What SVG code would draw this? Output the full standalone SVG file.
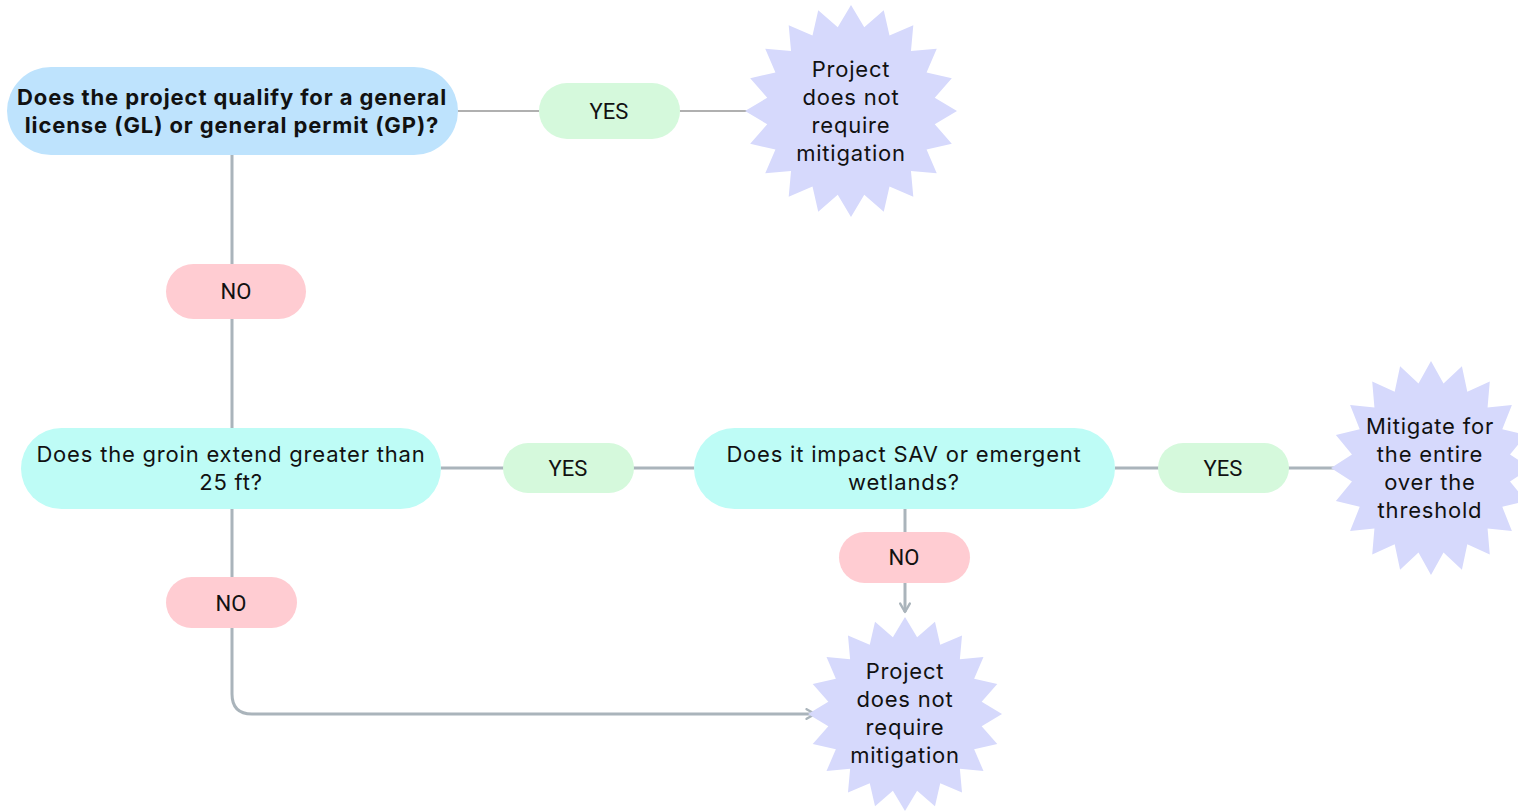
<svg xmlns="http://www.w3.org/2000/svg" xmlns:xlink="http://www.w3.org/1999/xlink" width="1518" height="811" viewBox="0 0 1518 811">
<style>
.q1{fill:#bee3fd}
.q{fill:#befcf6}
.yes{fill:#d5f9dc}
.no{fill:#ffccd2}
.star{fill:#d6d9fc}
.t{font-family:Inter,"DejaVu Sans",sans-serif;font-size:22px;letter-spacing:0.8px;fill:#111;text-anchor:middle}
.tb{font-family:Inter,"DejaVu Sans",sans-serif;font-size:22px;letter-spacing:0.9px;font-weight:bold;fill:#111;text-anchor:middle}
.lbl{font-family:Roboto,"Liberation Sans",sans-serif;font-size:22px;fill:#111;text-anchor:middle}
.c{fill:none;stroke:#aab4bb;stroke-width:3}
.ct{fill:none;stroke:#b0b0b0;stroke-width:2}
</style>
<defs>
<polygon id="star" points="0,-100 12.51,-79.02 30.9,-95.11 36.32,-71.28 58.78,-80.9 56.57,-56.57 80.9,-58.78 71.28,-36.32 95.11,-30.9 79.02,-12.51 100,0 79.02,12.51 95.11,30.9 71.28,36.32 80.9,58.78 56.57,56.57 58.78,80.9 36.32,71.28 30.9,95.11 12.51,79.02 0,100 -12.51,79.02 -30.9,95.11 -36.32,71.28 -58.78,80.9 -56.57,56.57 -80.9,58.78 -71.28,36.32 -95.11,30.9 -79.02,12.51 -100,0 -79.02,-12.51 -95.11,-30.9 -71.28,-36.32 -80.9,-58.78 -56.57,-56.57 -58.78,-80.9 -36.32,-71.28 -30.9,-95.11 -12.51,-79.02"/>
<marker id="arr" viewBox="0 0 10 10" refX="8" refY="5" markerWidth="4" markerHeight="4" orient="auto" markerUnits="strokeWidth">
<path d="M1,1 L8,5 L1,9" fill="none" stroke="#aab4bb" stroke-width="2" stroke-linecap="round" stroke-linejoin="round"/>
</marker>
</defs>
<g id="connectors">
<path class="ct" d="M458,111 H539"/>
<path class="ct" d="M680,111 H757"/>
<path class="c" d="M232,155 V428"/>
<path class="c" d="M441,468 H694"/>
<path class="c" d="M1115,468 H1340"/>
<path class="c" d="M905,509 V612" marker-end="url(#arr)"/>
<path class="c" d="M232,509 V694 Q232,714 252,714 H815" marker-end="url(#arr)"/>
</g>
<g id="q1">
<rect class="q1" x="7" y="67" width="451" height="88" rx="44"/>
<text class="tb" x="232" y="105">Does the project qualify for a general</text>
<text class="tb" x="232" y="133">license (GL) or general permit (GP)?</text>
</g>
<g id="yes1">
<rect class="yes" x="539" y="83" width="141" height="56" rx="28"/>
<text class="lbl" x="609" y="119">YES</text>
</g>
<g id="end1">
<use xlink:href="#star" class="star" transform="translate(851,111) scale(1.06)"/>
<text class="t" x="851" y="77">Project</text>
<text class="t" x="851" y="105">does not</text>
<text class="t" x="851" y="133">require</text>
<text class="t" x="851" y="161">mitigation</text>
</g>
<g id="no1">
<rect class="no" x="166" y="264" width="140" height="55" rx="27.5"/>
<text class="lbl" x="236" y="299">NO</text>
</g>
<g id="q2">
<rect class="q" x="21" y="428" width="420" height="81" rx="40.5"/>
<text class="t" x="231" y="462">Does the groin extend greater than</text>
<text class="t" x="231" y="490">25 ft?</text>
</g>
<g id="yes2">
<rect class="yes" x="503" y="443" width="131" height="50" rx="25"/>
<text class="lbl" x="568" y="476">YES</text>
</g>
<g id="q3">
<rect class="q" x="694" y="428" width="421" height="81" rx="40.5"/>
<text class="t" x="904" y="462">Does it impact SAV or emergent</text>
<text class="t" x="904" y="490">wetlands?</text>
</g>
<g id="yes3">
<rect class="yes" x="1158" y="443" width="131" height="50" rx="25"/>
<text class="lbl" x="1223" y="476">YES</text>
</g>
<g id="end3">
<use xlink:href="#star" class="star" transform="translate(1431,468) scale(1.0,1.07)"/>
<text class="t" x="1430" y="434">Mitigate for</text>
<text class="t" x="1430" y="462">the entire</text>
<text class="t" x="1430" y="490">over the</text>
<text class="t" x="1430" y="518">threshold</text>
</g>
<g id="no2">
<rect class="no" x="839" y="532" width="131" height="51" rx="25.5"/>
<text class="lbl" x="904" y="565">NO</text>
</g>
<g id="no3">
<rect class="no" x="166" y="577" width="131" height="51" rx="25.5"/>
<text class="lbl" x="231" y="611">NO</text>
</g>
<g id="end2">
<use xlink:href="#star" class="star" transform="translate(905,714) scale(0.97)"/>
<text class="t" x="905" y="679">Project</text>
<text class="t" x="905" y="707">does not</text>
<text class="t" x="905" y="735">require</text>
<text class="t" x="905" y="763">mitigation</text>
</g>
</svg>
